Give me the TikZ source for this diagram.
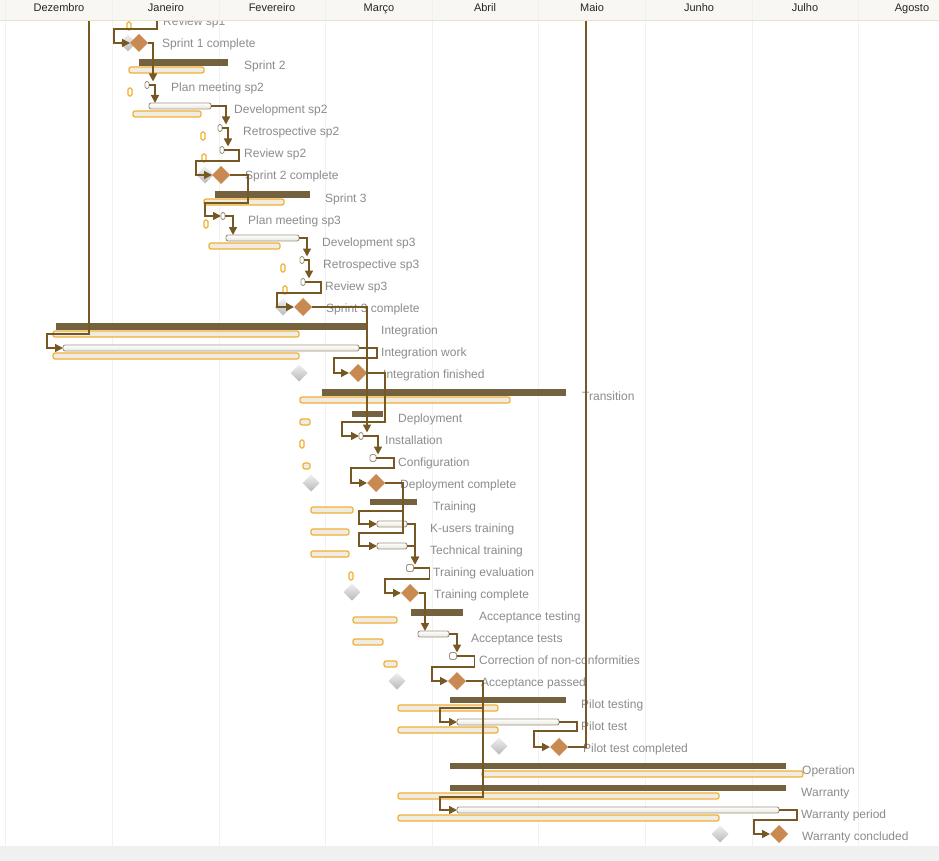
\documentclass[tikz,border=0pt]{standalone}
\usepackage{fontspec}
\setmainfont{Liberation Sans}
\usetikzlibrary{arrows.meta,shapes.geometric}
\definecolor{sumc}{RGB}{116,97,62}
\definecolor{connc}{RGB}{118,88,36}
\definecolor{taskfill}{RGB}{244,241,232}
\definecolor{taskline}{RGB}{160,150,130}
\definecolor{basefill}{RGB}{240,236,228}
\definecolor{orangeln}{RGB}{240,176,52}
\definecolor{msc}{RGB}{201,138,82}
\definecolor{lblc}{RGB}{140,140,140}
\definecolor{gridc}{RGB}{241,241,241}
\definecolor{hdrc}{RGB}{248,247,243}
\definecolor{hdrln}{RGB}{232,226,200}
\definecolor{botc}{RGB}{240,240,240}
\newcommand\gbar[6]{\node[#1,minimum width={(#4-#3)*1pt},minimum height={(#6-#5)*1pt}] (#2) at (#3,#5) {};}
\begin{document}
\begin{tikzpicture}[x=1pt,y=-1pt,font=\fontsize{12}{14}\selectfont,
  sumbar/.style={fill=sumc,draw=none,anchor=north west,inner sep=0pt,outer sep=0pt},
  taskbar/.style={top color=white,bottom color=taskfill!90!gray,draw=taskline,line width=0.9pt,rounded corners=2pt,anchor=north west,inner sep=0pt,outer sep=0pt},
  basebar/.style={fill=basefill,draw=orangeln,line width=1.2pt,rounded corners=2pt,anchor=north west,inner sep=0pt,outer sep=0pt},
  zcap/.style={draw=taskline,fill=white,line width=0.9pt,rounded corners=1.5pt,minimum width=4pt,minimum height=7pt,inner sep=0pt,outer sep=0pt},
  zbase/.style={draw=orangeln,fill=white,line width=1.2pt,rounded corners=1.5pt,minimum width=4pt,minimum height=8pt,inner sep=0pt,outer sep=0pt},
  msd/.style={diamond,fill=msc,minimum width=18pt,minimum height=18pt,inner sep=0pt,outer sep=0pt},
  gmsd/.style={diamond,top color=gray!12,bottom color=gray!55,draw=none,minimum width=17pt,minimum height=17pt,inner sep=0pt,outer sep=0pt},
  lbl/.style={anchor=base west,inner sep=0pt,text=lblc},
  mon/.style={anchor=base,inner sep=0pt,text=black!85,font=\fontsize{11}{13}\selectfont},
  conn/.style={draw=connc,line width=1.6pt,-{Triangle[length=8pt,width=8pt]}},
  connp/.style={draw=connc,line width=1.6pt}]
\useasboundingbox (0,0) rectangle (939,861);
\fill[white] (0,0) rectangle (939,861);
% grid
\foreach \gx in {5.7,112.3,218.9,325.5,432.1,538.7,645.3,751.9,858.5}
  \draw[gridc,line width=0.8pt] (\gx,20) -- (\gx,846);
\fill[botc] (0,846) rectangle (939,861);
% labels
\node[lbl] (l0) at (163,26) {Review sp1};
\node[lbl] (l1) at (162,48) {Sprint 1 complete};
\node[lbl] (l2) at (244,70) {Sprint 2};
\node[lbl] (l3) at (171,92) {Plan meeting sp2};
\node[lbl] (l4) at (234,114) {Development sp2};
\node[lbl] (l5) at (243,136) {Retrospective sp2};
\node[lbl] (l6) at (244,158) {Review sp2};
\node[lbl] (l7) at (245,180) {Sprint 2 complete};
\node[lbl] (l8) at (325,202) {Sprint 3};
\node[lbl] (l9) at (248,224) {Plan meeting sp3};
\node[lbl] (l10) at (322,246) {Development sp3};
\node[lbl] (l11) at (323,268) {Retrospective sp3};
\node[lbl] (l12) at (325,290) {Review sp3};
\node[lbl] (l13) at (326,312) {Sprint 3 complete};
\node[lbl] (l14) at (381,334) {Integration};
\node[lbl] (l15) at (381,356) {Integration work};
\node[lbl] (l16) at (383,378) {Integration finished};
\node[lbl] (l17) at (582,400) {Transition};
\node[lbl] (l18) at (398,422) {Deployment};
\node[lbl] (l19) at (385,444) {Installation};
\node[lbl] (l20) at (398,466) {Configuration};
\node[lbl] (l21) at (400,488) {Deployment complete};
\node[lbl] (l22) at (433,510) {Training};
\node[lbl] (l23) at (430,532) {K-users training};
\node[lbl] (l24) at (430,554) {Technical training};
\node[lbl] (l25) at (433,576) {Training evaluation};
\node[lbl] (l26) at (434,598) {Training complete};
\node[lbl] (l27) at (479,620) {Acceptance testing};
\node[lbl] (l28) at (471,642) {Acceptance tests};
\node[lbl] (l29) at (479,664) {Correction of non-conformities};
\node[lbl] (l30) at (481,686) {Acceptance passed};
\node[lbl] (l31) at (581,708) {Pilot testing};
\node[lbl] (l32) at (581,730) {Pilot test};
\node[lbl] (l33) at (583,752) {Pilot test completed};
\node[lbl] (l34) at (802,774) {Operation};
\node[lbl] (l35) at (801,796) {Warranty};
\node[lbl] (l36) at (801,818) {Warranty period};
\node[lbl] (l37) at (802,840) {Warranty concluded};
% baseline bars
\gbar{basebar}{b2}{129}{204}{67}{73}
\gbar{basebar}{b4}{133}{201}{111}{117}
\gbar{basebar}{b8}{204}{284}{199}{205}
\gbar{basebar}{b10}{209}{280}{243}{249}
\gbar{basebar}{b14}{53}{299}{331}{337}
\gbar{basebar}{b15}{53}{299}{353}{359}
\gbar{basebar}{b17}{300}{510}{397}{403}
\gbar{basebar}{b18}{300}{310}{419}{425}
\gbar{basebar}{b20}{303}{310}{463}{469}
\gbar{basebar}{b22}{311}{353}{507}{513}
\gbar{basebar}{b23}{311}{349}{529}{535}
\gbar{basebar}{b24}{311}{349}{551}{557}
\gbar{basebar}{b27}{353}{397}{617}{623}
\gbar{basebar}{b28}{353}{383}{639}{645}
\gbar{basebar}{b29}{384}{397}{661}{667}
\gbar{basebar}{b31}{398}{498}{705}{711}
\gbar{basebar}{b32}{398}{498}{727}{733}
\gbar{basebar}{b34}{482}{803}{771}{777}
\gbar{basebar}{b35}{398}{719}{793}{799}
\gbar{basebar}{b36}{398}{719}{815}{821}
% baseline zero tasks
\node[zbase] (z0) at (129,26) {};
\node[zbase] (z3) at (130,92) {};
\node[zbase] (z5) at (203,136) {};
\node[zbase] (z6) at (204,158) {};
\node[zbase] (z9) at (206,224) {};
\node[zbase] (z11) at (283,268) {};
\node[zbase] (z12) at (285,290) {};
\node[zbase] (z19) at (302,444) {};
\node[zbase] (z25) at (351,576) {};
% baseline milestones
\node[gmsd] (g1) at (128,43) {};
\node[gmsd] (g7) at (205,175) {};
\node[gmsd] (g13) at (283,307) {};
\node[gmsd] (g16) at (299,373) {};
\node[gmsd] (g21) at (311,483) {};
\node[gmsd] (g26) at (352,592) {};
\node[gmsd] (g30) at (397,681) {};
\node[gmsd] (g33) at (499,746) {};
\node[gmsd] (g37) at (720,834) {};
% summary bars
\gbar{sumbar}{s2}{139}{228}{59}{66}
\gbar{sumbar}{s8}{215}{310}{191}{198}
\gbar{sumbar}{s14}{56}{366}{323}{330}
\gbar{sumbar}{s17}{322}{566}{389}{396}
\gbar{sumbar}{s18}{352}{383}{411}{417}
\gbar{sumbar}{s22}{370}{417}{499}{505}
\gbar{sumbar}{s27}{411}{463}{609}{616}
\gbar{sumbar}{s31}{450}{566}{697}{703}
\gbar{sumbar}{s34}{450}{786}{763}{769}
\gbar{sumbar}{s35}{450}{786}{785}{791}
% task bars
\gbar{taskbar}{dev2}{149}{211}{103}{109}
\gbar{taskbar}{dev3}{226}{299}{235}{241}
\gbar{taskbar}{iw}{63}{359}{345}{351}
\gbar{taskbar}{ku}{377}{407}{521}{527}
\gbar{taskbar}{tt}{377}{407}{543}{549}
\gbar{taskbar}{at}{418}{449}{631}{637}
\gbar{taskbar}{pt}{457}{559}{719}{725}
\gbar{taskbar}{wp}{457}{779}{807}{813}
% zero tasks
\node[zcap] (cap0) at (141,17) {};
\node[zcap] (cap3) at (147,85) {};
\node[zcap] (cap5) at (220,128) {};
\node[zcap] (cap6) at (222,150) {};
\node[zcap] (cap9) at (223,216) {};
\node[zcap] (cap11) at (302,260) {};
\node[zcap] (cap12) at (303,282) {};
\node[zcap] (cap19) at (361,436) {};
\node[zcap,minimum width=6pt] (cap20) at (373,458) {};
\node[zcap,minimum width=7pt] (cap25) at (410,568) {};
\node[zcap,minimum width=7pt] (cap29) at (453,656) {};
% milestones
\node[msd] (ms1) at (139,43) {};
\node[msd] (ms7) at (221,175) {};
\node[msd] (ms13) at (303,307) {};
\node[msd] (ms16) at (358,373) {};
\node[msd] (ms21) at (376,483) {};
\node[msd] (ms26) at (410,593) {};
\node[msd] (ms30) at (457,681) {};
\node[msd] (ms33) at (559,747) {};
\node[msd] (ms37) at (779,834) {};
\coordinate (topA) at (89,21);
\coordinate (topB) at (586,21);
% connectors
\draw[conn] (cap0.east) -- ++(14,0) |- (114,29) |- (ms1.west);
\draw[conn] (ms1.east) -- ++(5,0) coordinate (t) -- (t |- cap3.north);
\draw[conn] (cap3.east) -- ++(6,0) coordinate (t) -- (t |- dev2.north);
\draw[conn] (dev2.east) -- ++(15,0) coordinate (t) -- (t |- cap5.north);
\draw[conn] (cap5.east) -- ++(6,0) coordinate (t) -- (t |- cap6.north);
\draw[conn] (cap6.east) -- ++(15,0) |- (196,161) |- (ms7.west);
\draw[conn] (ms7.east) -- ++(18,0) |- (205,203) |- (cap9.west);
\draw[conn] (cap9.east) -- ++(8,0) coordinate (t) -- (t |- dev3.north);
\draw[conn] (dev3.east) -- ++(8,0) coordinate (t) -- (t |- cap11.north);
\draw[conn] (cap11.east) -- ++(5,0) coordinate (t) -- (t |- cap12.north);
\draw[conn] (cap12.east) -- ++(16,0) |- (277,293) |- (ms13.west);
\draw[conn] (ms13.east) -- ++(55,0) coordinate (t) -- (t |- cap19.north);
\draw[conn] (topA) |- (47,334) |- (iw.west);
\draw[conn] (iw.east) -- ++(18,0) |- (334,358) |- (ms16.west);
\draw[conn] (ms16.east) -- ++(18,0) |- (342,422) |- (cap19.west);
\draw[conn] (cap19.east) -- ++(15,0) coordinate (t) -- (t |- cap20.north);
\draw[conn] (cap20.east) -- ++(18,0) |- (351,468) |- (ms21.west);
\draw[conn] (ms21.east) -- ++(18,0) |- (359,511) |- (ku.west);
\draw[conn] (ms21.east) -- ++(18,0) |- (359,533) |- (tt.west);
\draw[conn] (ku.east) -- ++(8,0) coordinate (t) -- (t |- cap25.north);
\draw[conn] (tt.east) -- ++(8,0) coordinate (t) -- (t |- cap25.north);
\draw[conn] (cap25.east) -- ++(16,0) |- (385,579) |- (ms26.west);
\draw[conn] (ms26.east) -- ++(6,0) coordinate (t) -- (t |- at.north);
\draw[conn] (at.east) -- ++(8,0) coordinate (t) -- (t |- cap29.north);
\draw[conn] (cap29.east) -- ++(18,0) |- (432,667) |- (ms30.west);
\draw[conn] (ms30.east) -- ++(17,0) |- (440,708) |- (pt.west);
\draw[conn] (ms30.east) -- ++(17,0) |- (440,797) |- (wp.west);
\draw[conn] (pt.east) -- ++(18,0) |- (534,731) |- (ms33.west);
\draw[connp] (ms33.east) -| (topB);
\draw[conn] (wp.east) -- ++(18,0) |- (754,820) |- (ms37.west);
% header
\fill[hdrc] (0,0) rectangle (939,20);
\foreach \gx in {5.7,112.3,218.9,325.5,432.1,538.7,645.3,751.9,858.5}
  \draw[gridc,line width=0.8pt] (\gx,0) -- (\gx,20);
\draw[hdrln,line width=0.8pt] (0,20.5) -- (939,20.5);
\node[mon] (m1) at (59,12) {Dezembro};
\node[mon] (m2) at (166,12) {Janeiro};
\node[mon] (m3) at (272,12) {Fevereiro};
\node[mon] (m4) at (379,12) {Março};
\node[mon] (m5) at (485,12) {Abril};
\node[mon] (m6) at (592,12) {Maio};
\node[mon] (m7) at (699,12) {Junho};
\node[mon] (m8) at (805,12) {Julho};
\node[mon] (m9) at (912,12) {Agosto};
\end{tikzpicture}
\end{document}
